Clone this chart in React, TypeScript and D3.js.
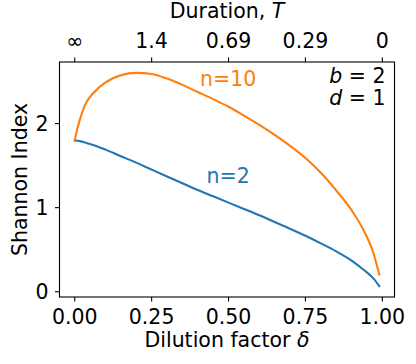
import React from 'react';
import * as d3 from 'd3';

const W = 416, H = 364;
const frame = { left: 59.5, right: 394.5, top: 62, bottom: 297 };
const font = "'DejaVu Sans', sans-serif";
const fs = 20.5;

// dilution factor grid shared by both curves
const delta = [0, 0.01, 0.02, 0.03, 0.04, 0.06, 0.1, 0.15, 0.2, 0.25, 0.3, 0.35, 0.4, 0.45, 0.5, 0.55, 0.6, 0.65, 0.7, 0.75, 0.8, 0.85, 0.9, 0.94, 0.97, 0.99];
const shannonN2 = [1.8, 1.795, 1.788, 1.778, 1.767, 1.745, 1.69, 1.612, 1.535, 1.452, 1.37, 1.29, 1.21, 1.135, 1.06, 0.985, 0.91, 0.83, 0.75, 0.665, 0.575, 0.48, 0.37, 0.258, 0.162, 0.068];
const shannonN10 = [1.8, 1.96, 2.085, 2.19, 2.265, 2.36, 2.49, 2.575, 2.603, 2.59, 2.535, 2.46, 2.375, 2.29, 2.2, 2.095, 1.985, 1.865, 1.735, 1.59, 1.415, 1.205, 0.97, 0.725, 0.47, 0.205];

const xTicks = [0, 0.25, 0.5, 0.75, 1];
const xTickLabels = ['0.00', '0.25', '0.50', '0.75', '1.00'];
const yTicks = [0, 1, 2];
const topTickLabels = ['∞', '1.4', '0.69', '0.29', '0'];

const blue = '#1f77b4';
const orange = '#ff7f0e';

const App = () => {
  const x = d3.scaleLinear().domain([-0.0495, 1.0395]).range([frame.left, frame.right]);
  const y = d3.scaleLinear().domain([-0.0625, 2.732]).range([frame.bottom, frame.top]);

  const line = (vals: number[]) =>
    d3.line<number>()
      .x((_, i) => x(delta[i]))
      .y((d) => y(d))
      .curve(d3.curveMonotoneX)(vals) || '';

  return (
    <svg width={W} height={H} style={{ position: 'absolute', left: 0, top: 0, background: '#fff' }}
      fontFamily={font}>
      <path d={line(shannonN2)} fill="none" stroke={blue} strokeWidth={2.1} strokeLinecap="square" />
      <path d={line(shannonN10)} fill="none" stroke={orange} strokeWidth={2.1} strokeLinecap="square" />

      {/* frame */}
      <rect x={frame.left} y={frame.top} width={frame.right - frame.left} height={frame.bottom - frame.top}
        fill="none" stroke="#000" strokeWidth={1.1} />

      {/* bottom axis */}
      {xTicks.map((t, i) => (
        <g key={'b' + i}>
          <line x1={x(t)} x2={x(t)} y1={frame.bottom} y2={frame.bottom + 4.5} stroke="#000" strokeWidth={1.1} />
          <text x={x(t)} y={324} textAnchor="middle" fontSize={fs}>{xTickLabels[i]}</text>
        </g>
      ))}
      {/* top axis: duration T = -ln(delta) */}
      {xTicks.map((t, i) => (
        <g key={'t' + i}>
          <line x1={x(t)} x2={x(t)} y1={frame.top} y2={frame.top - 4.5} stroke="#000" strokeWidth={1.1} />
          <text x={x(t)} y={47.5} textAnchor="middle" fontSize={fs}>{topTickLabels[i]}</text>
        </g>
      ))}
      {/* left axis */}
      {yTicks.map((t) => (
        <g key={'y' + t}>
          <line x1={frame.left} x2={frame.left - 4.5} y1={y(t)} y2={y(t)} stroke="#000" strokeWidth={1.1} />
          <text x={48.5} y={y(t)} dy="0.36em" textAnchor="end" fontSize={fs}>{t}</text>
        </g>
      ))}

      {/* axis labels */}
      <text x={227} y={346.5} textAnchor="middle" fontSize={fs}>
        Dilution factor <tspan fontStyle="italic">δ</tspan>
      </text>
      <text x={227} y={17.5} textAnchor="middle" fontSize={fs}>
        Duration, <tspan fontStyle="italic">T</tspan>
      </text>
      <text transform={`translate(27,${(frame.top + frame.bottom) / 2}) rotate(-90)`} textAnchor="middle" fontSize={fs}>
        Shannon Index
      </text>

      {/* annotations */}
      <text x={200} y={85.5} fontSize={fs} fill={orange}>n=10</text>
      <text x={206.5} y={182.5} fontSize={fs} fill={blue}>n=2</text>
      <text x={385.5} y={82.5} textAnchor="end" fontSize={fs}>
        <tspan fontStyle="italic">b</tspan> = 2
      </text>
      <text x={385.5} y={104.5} textAnchor="end" fontSize={fs}>
        <tspan fontStyle="italic">d</tspan> = 1
      </text>
    </svg>
  );
};

export default App;
